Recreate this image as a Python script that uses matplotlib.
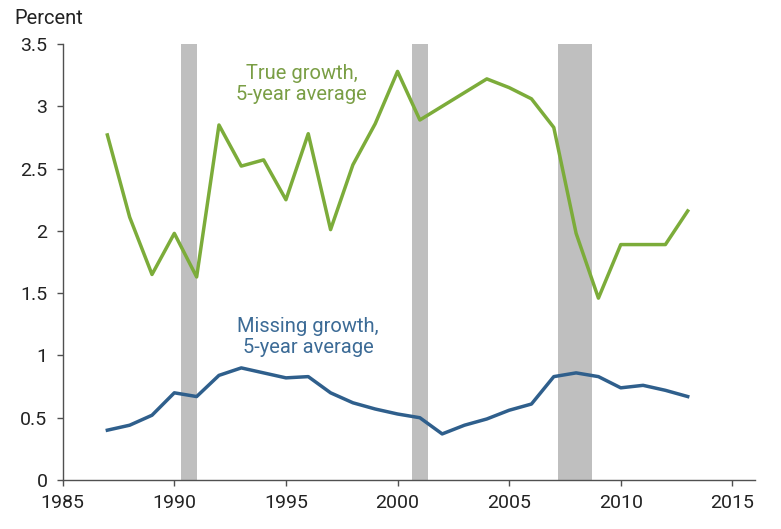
import matplotlib.pyplot as plt

plt.rcParams['font.family'] = ['Roboto', 'DejaVu Sans']

years = list(range(1987, 2014))
true_growth = [2.77, 2.11, 1.65, 1.98, 1.63, 2.85, 2.52, 2.57, 2.25, 2.78,
               2.01, 2.53, 2.86, 3.28, 2.89, 3.00, 3.11, 3.22, 3.15, 3.06,
               2.83, 1.98, 1.46, 1.89, 1.89, 1.89, 2.16]
missing_growth = [0.40, 0.44, 0.52, 0.70, 0.67, 0.84, 0.90, 0.86, 0.82, 0.83,
                  0.70, 0.62, 0.57, 0.53, 0.50, 0.37, 0.44, 0.49, 0.56, 0.61,
                  0.83, 0.86, 0.83, 0.74, 0.76, 0.72, 0.67]
recessions = [(1990.3, 1991.0), (2000.65, 2001.37), (2007.2, 2008.7)]

green = '#7cac3a'
blue = '#2f5f8c'

fig = plt.figure(figsize=(7.81, 5.29), dpi=100)
ax = fig.add_axes([0.0803, 0.0926, 0.886, 0.8242])

for start, end in recessions:
    ax.axvspan(start, end, color='#bfbfbf', lw=0, zorder=1)

ax.plot(years, true_growth, color=green, lw=2.5, zorder=3)
ax.plot(years, missing_growth, color=blue, lw=2.5, zorder=3)

ax.text(1995.7, 3.18, 'True growth,\n5-year average', color='#7a9e45',
        fontsize=14.5, ha='center', va='center', linespacing=1.1)
ax.text(1996.0, 1.15, 'Missing growth,\n5-year average', color='#3c6b96',
        fontsize=14.5, ha='center', va='center', linespacing=1.1)

ax.set_xlim(1985, 2016.0)
ax.set_ylim(0, 3.5)
ax.set_xticks([1985, 1990, 1995, 2000, 2005, 2010, 2015])
ax.set_yticks([0, 0.5, 1, 1.5, 2, 2.5, 3, 3.5])
ax.set_yticklabels(['0', '0.5', '1', '1.5', '2', '2.5', '3', '3.5'])

for side in ['top', 'right']:
    ax.spines[side].set_visible(False)
for side in ['left', 'bottom']:
    ax.spines[side].set_color('#505050')
    ax.spines[side].set_linewidth(1.0)
ax.tick_params(axis='both', direction='out', length=4, width=1.0,
               color='#505050', labelsize=14, labelcolor='#222222')
ax.tick_params(axis='y', pad=7)
ax.tick_params(axis='x', pad=6)

fig.text(0.019, 0.965, 'Percent', fontsize=14.5, color='#222222', va='center')

fig.savefig('out.png', dpi=100)
